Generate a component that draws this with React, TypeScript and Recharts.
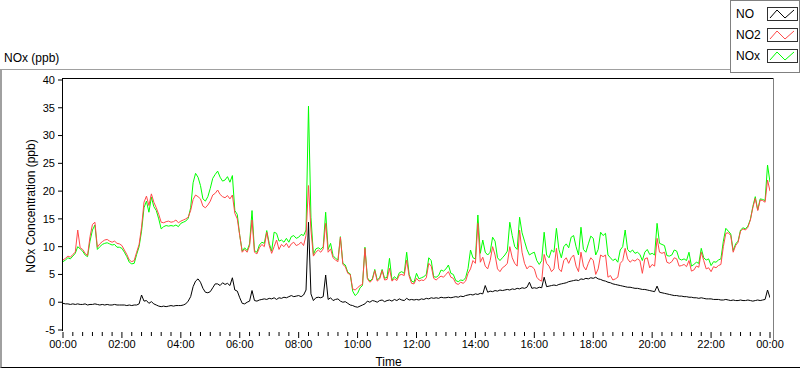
import { Line, LineChart, XAxis, YAxis } from "recharts";

// one reading every 5 minutes, 00:00 .. 24:00
const STEP_MIN = 5;

const no = [
  -0.2, -0.3, -0.3, -0.4, -0.3, -0.4, -0.3, -0.4, -0.4, -0.3, -0.5, -0.4,
  -0.4, -0.3, -0.4, -0.5, -0.4, -0.5, -0.4, -0.5, -0.5, -0.4, -0.5, -0.5,
  -0.5, -0.5, -0.6, -0.5, -0.6, -0.5, -0.5, -0.3, 1.3, 0.2, 0.3, -0.2,
  0.1, -0.3, -0.5, -0.7, -0.8, -0.7, -0.8, -0.7, -0.6, -0.7, -0.6, -0.6,
  -0.6, -0.5, -0.3, 0.2, 1.0, 2.8, 3.8, 4.2, 3.6, 2.5, 1.8, 1.7,
  1.9, 2.6, 3.3, 3.3, 3.0, 3.5, 3.2, 3.4, 3.0, 4.4, 2.2, 2.0,
  0.8, -0.2, -0.3, 0.0, 0.2, 2.1, 0.3, 0.2, 0.4, 0.5, 0.6, 0.5,
  0.7, 0.6, 0.8, 0.5, 0.8, 0.7, 0.9, 0.8, 1.0, 1.2, 1.0, 1.1,
  1.2, 1.0, 1.3, 2.2, 14.4, 1.5, 0.3, 0.8, 0.9, 0.8, 1.0, 4.9,
  0.5, 0.8, 0.3, 0.5, 0.6, 0.2, 0.0, 0.1, -0.2, -0.5, -0.6, -0.8,
  -0.9, -0.7, -0.5, -0.3, 0.2, 0.0, 0.3, 0.2, 0.0, 0.3, 0.4, 0.1,
  0.3, 0.4, 0.2, 0.5, 0.3, 0.6, 0.4, 0.3, 0.7, 0.4, 0.5, 0.4,
  0.5, 0.4, 0.6, 0.5, 0.7, 0.6, 0.8, 0.7, 0.8, 0.7, 0.9, 0.8,
  0.8, 0.9, 0.8, 0.9, 1.0, 0.9, 1.1, 1.0, 1.2, 1.3, 1.4, 1.3,
  1.5, 1.4, 1.6, 1.5, 3.0, 1.8, 2.0, 1.9, 2.1, 2.0, 2.2, 2.1,
  2.2, 2.3, 2.2, 2.4, 2.3, 2.5, 2.4, 2.6, 2.5, 2.7, 3.6, 2.5,
  2.6, 2.5, 2.7, 2.6, 4.5, 2.8, 2.9, 3.0, 3.1, 3.0, 3.2, 3.3,
  3.4, 3.5, 3.7, 3.8, 3.9, 4.0, 3.9, 4.2, 4.1, 4.3, 4.2, 4.4,
  4.3, 4.5, 4.2, 4.1, 3.9, 3.8, 3.6, 3.5, 3.3, 3.2, 3.1, 3.0,
  2.9, 2.8, 2.7, 2.7, 2.6, 2.5, 2.5, 2.4, 2.3, 2.3, 2.2, 2.1,
  2.0, 1.9, 2.9, 1.8, 1.7, 1.6, 1.5, 1.4, 1.3, 1.2, 1.2, 1.1,
  1.1, 1.0, 1.0, 0.9, 0.9, 0.8, 0.8, 0.7, 0.8, 0.7, 0.6, 0.6,
  0.6, 0.5, 0.5, 0.5, 0.4, 0.4, 0.5, 0.4, 0.3, 0.4, 0.3, 0.3,
  0.4, 0.3, 0.3, 0.4, 0.3, 0.2, 0.3, 0.4, 0.3, 0.4, 0.5, 2.2,
  0.8,
];

const no2 = [
  7.6, 7.9, 8.3, 8.1, 8.6, 9.0, 13.0, 9.8, 9.5, 8.8, 8.4, 11.8,
  14.0, 14.4, 9.9, 10.5, 10.9, 11.2, 11.3, 11.0, 10.8, 11.0, 10.6, 10.5,
  10.2, 9.4, 8.6, 7.6, 7.3, 7.5, 9.0, 10.4, 13.5, 18.0, 19.1, 17.4,
  19.5, 18.0, 17.0, 15.8, 14.4, 14.3, 14.5, 14.6, 14.4, 14.5, 14.8, 14.3,
  14.6, 14.8, 15.0, 15.3, 16.5, 18.5, 19.3, 19.0, 18.6, 17.3, 17.0, 17.5,
  18.2, 19.3, 19.6, 20.2, 19.4, 19.0, 18.8, 19.2, 18.6, 19.3, 16.0, 15.0,
  12.0, 9.0, 9.5, 9.0, 10.2, 14.8, 9.0, 8.7, 9.8, 10.4, 10.0, 12.6,
  10.2, 8.8, 10.0, 11.2, 9.5, 10.4, 10.0, 10.6, 9.8, 10.5, 10.8, 10.2,
  10.4, 10.8, 10.2, 12.0, 21.0, 13.0, 8.3, 9.0, 9.4, 9.0, 9.6, 14.2,
  9.0, 9.6, 8.0, 7.6, 7.3, 11.7, 6.8, 6.4, 5.2, 5.0, 2.4, 2.2,
  2.6, 3.0, 3.2, 9.7, 4.2, 3.6, 4.0, 5.7, 3.8, 4.2, 5.7, 4.0,
  4.1, 6.1, 3.8, 4.2, 3.9, 4.9, 5.0, 4.8, 7.6, 4.7, 3.4, 3.3,
  4.3, 3.8, 4.0, 3.9, 4.4, 7.0, 6.5, 4.3, 4.0, 4.4, 4.7, 4.5,
  5.0, 5.5, 4.5, 4.3, 3.4, 3.2, 3.6, 3.4, 3.8, 5.2, 6.0, 7.5,
  7.0, 14.2, 7.2, 8.1, 6.5, 6.0, 7.5, 10.0, 8.5, 6.0, 5.5, 6.2,
  6.5, 7.0, 10.0, 8.0, 7.0, 6.5, 13.0, 9.0, 7.0, 6.0, 6.5, 6.4,
  6.0, 4.5, 4.0, 3.8, 8.6, 7.0, 6.5, 5.5, 6.0, 9.7, 6.0, 5.5,
  7.5, 8.0, 7.0, 8.0, 8.5, 6.5, 5.5, 9.0, 6.5, 5.8, 7.0, 8.0,
  7.5, 5.0, 6.0, 8.5, 8.2, 8.5, 4.5, 4.8, 4.0, 4.2, 4.5, 7.0,
  7.5, 9.7, 7.8, 7.2, 7.6, 7.4, 7.8, 7.5, 5.2, 7.8, 8.0, 6.2,
  6.8, 6.5, 11.5, 9.0, 8.8, 9.0, 7.2, 7.0, 7.3, 8.0, 7.8, 6.5,
  6.6, 6.8, 6.4, 7.5, 5.6, 5.8, 6.5, 6.3, 9.0, 7.5, 6.0, 6.2,
  5.5, 6.4, 6.2, 6.6, 6.8, 10.0, 12.4, 12.5, 12.0, 9.0, 10.2, 10.8,
  12.8, 13.2, 13.0, 13.5, 14.8, 17.0, 18.7, 16.5, 18.4, 18.3, 18.0, 22.0,
  20.0,
];

const nox = [
  7.3, 7.6, 8.0, 7.8, 8.3, 8.8, 10.0, 9.6, 9.2, 8.5, 8.2, 11.0,
  13.0, 13.9, 9.5, 10.0, 10.4, 10.6, 10.7, 10.5, 10.3, 10.4, 9.9, 9.9,
  9.7, 9.0, 8.2, 7.2, 6.9, 7.0, 8.6, 10.0, 12.8, 17.0, 18.2, 16.2,
  18.9, 17.2, 16.5, 15.0, 13.2, 13.6, 13.8, 13.7, 13.8, 13.7, 13.9, 13.6,
  14.2, 14.4, 14.6, 15.1, 17.0, 21.5, 23.2, 22.5, 21.0, 18.6, 18.2, 19.0,
  20.5, 22.3, 23.0, 23.6, 22.5, 21.8, 22.0, 22.6, 21.6, 22.8, 16.5, 15.8,
  12.0, 9.2, 9.8, 9.3, 10.5, 16.5, 9.3, 9.0, 10.3, 10.8, 10.6, 12.9,
  10.6, 9.2, 12.6, 12.4, 11.0, 11.2, 10.8, 11.5, 10.8, 11.8, 12.0, 11.5,
  11.7, 12.2, 12.0, 13.0, 35.3, 15.3, 8.6, 9.6, 9.8, 9.5, 10.0, 16.2,
  9.5, 10.6, 8.4, 7.9, 7.6, 11.8, 7.0, 6.7, 5.4, 5.1, 2.0, 1.2,
  1.6, 2.6, 3.0, 9.9, 4.4, 3.8, 4.2, 5.9, 4.0, 4.4, 5.9, 4.3,
  4.5, 7.9, 4.0, 4.6, 4.2, 5.3, 5.5, 5.2, 9.0, 5.0, 3.8, 3.6,
  5.2, 4.2, 4.4, 4.6, 5.0, 8.0, 7.5, 4.6, 4.5, 4.8, 5.8, 5.6,
  6.0, 6.7, 5.2, 5.0, 3.9, 3.7, 4.0, 3.9, 4.4, 6.1, 9.4, 8.0,
  7.8, 15.7, 8.8, 11.2, 9.0, 8.5, 9.0, 11.7, 11.0, 8.0, 7.5, 8.0,
  8.5, 9.2, 14.4, 12.0, 10.0, 9.5, 15.3, 12.5, 11.0, 9.5, 8.5, 8.8,
  9.0, 7.5, 6.8, 7.5, 12.6, 8.5, 8.0, 9.4, 9.0, 13.3, 9.5, 8.0,
  10.0, 10.5, 9.8, 11.7, 12.0, 10.0, 8.5, 13.5, 9.5, 9.0, 10.5, 11.9,
  11.5, 8.5, 9.5, 12.6, 12.0, 12.4, 8.5, 8.0, 7.5, 7.8, 7.2, 9.4,
  10.0, 13.0, 9.5, 9.0, 9.4, 8.8, 9.0, 8.6, 7.5, 9.0, 9.5, 8.6,
  8.8, 8.5, 14.2, 10.6, 10.4, 10.2, 8.4, 8.3, 8.5, 9.4, 9.2, 7.8,
  7.6, 7.8, 7.5, 9.0, 6.5, 6.8, 7.2, 7.0, 9.7, 8.0, 7.6, 7.8,
  6.6, 7.3, 7.2, 7.6, 7.8, 11.0, 13.3, 12.8, 12.3, 9.3, 10.5, 11.0,
  13.0, 13.4, 13.2, 13.7, 14.9, 17.2, 19.0, 16.6, 18.6, 18.5, 18.3, 24.7,
  21.6,
];

const yTicks = [-5, 0, 5, 10, 15, 20, 25, 30, 35, 40];
// minor tick every 20 min, labelled every 2 h
const xTicks = Array.from({ length: 73 }, (_, i) => i * 20);

const series = [
  { key: "no", name: "NO", color: "#000000" },
  { key: "no2", name: "NO2", color: "#ff4848" },
  { key: "nox", name: "NOx", color: "#00ff00" },
];

const data = no.map((v, i) => ({ t: i * STEP_MIN, no: v, no2: no2[i], nox: nox[i] }));

const fmtTime = (m: number) => `${String(Math.floor(m / 60) % 24).padStart(2, "0")}:00`;

function TimeTick(props: any) {
  const { x, y, payload } = props;
  const major = payload.value % 120 === 0;
  return (
    <g>
      <line x1={x} x2={x} y1={y + 2} y2={y + (major ? 8 : 6)} stroke="#000" />
      {major && (
        <text x={x} y={y + 18} textAnchor="middle" fontSize={11} fill="#000">
          {fmtTime(payload.value)}
        </text>
      )}
    </g>
  );
}

function Swatch({ color }: { color: string }) {
  return (
    <svg width={31} height={14} style={{ display: "block" }}>
      <rect x={0.5} y={0.5} width={30} height={13} fill="#fff" stroke="#303030" />
      <polyline points="3,11 10,3 18,11 27,3" fill="none" stroke={color} />
    </svg>
  );
}

export default function App() {
  const order = ["nox", "no2", "no"];
  return (
    <div
      style={{
        position: "absolute",
        left: 0,
        top: 0,
        width: 800,
        height: 369,
        background: "#fff",
        fontFamily: "'Liberation Sans', Arial, sans-serif",
        color: "#000",
      }}
    >
      {/* outer panel frame */}
      <div
        style={{
          position: "absolute",
          left: 0,
          top: 69,
          width: 800,
          height: 299,
          boxSizing: "border-box",
          borderTop: "1px solid #a0a0a0",
          borderLeft: "2px solid #a0a0a0",
          borderBottom: "1px solid #000",
        }}
      />
      <div style={{ position: "absolute", left: 4, top: 51, fontSize: 12, lineHeight: "14px" }}>NOx (ppb)</div>

      <div style={{ position: "absolute", left: 0, top: 0 }}>
        <LineChart width={800} height={369} data={data} margin={{ top: 80, right: 30, bottom: 0, left: 0 }}>
          <XAxis
            dataKey="t"
            type="number"
            domain={[0, 1440]}
            ticks={xTicks}
            interval={0}
            height={39}
            tickSize={0}
            tickMargin={0}
            tickLine={false}
            axisLine={false}
            tick={(p: any) => <TimeTick {...p} />}
            allowDataOverflow
            label={{ value: "Time", position: "insideBottom", offset: 3, dx: -28, fontSize: 12, fill: "#000" }}
          />
          <YAxis
            type="number"
            domain={[-5, 40]}
            ticks={yTicks}
            interval={0}
            width={63}
            tickSize={5}
            tickMargin={3}
            axisLine={false}
            tickLine={{ stroke: "#000" }}
            tick={{ fill: "#000", fontSize: 11 }}
            allowDataOverflow
            label={() => (
              <text
                x={31}
                y={206}
                transform="rotate(-90 31 206)"
                textAnchor="middle"
                dominantBaseline="central"
                fontSize={12}
                fill="#000"
              >
                NOx Concentration (ppb)
              </text>
            )}
          />
          {order.map((k) => {
            const s = series.find((d) => d.key === k)!;
            return (
              <Line
                key={s.key}
                dataKey={s.key}
                name={s.name}
                type="linear"
                stroke={s.color}
                strokeWidth={1}
                dot={false}
                activeDot={false}
                isAnimationActive={false}
              />
            );
          })}
        </LineChart>
      </div>

      {/* plot box edges */}
      <div style={{ position: "absolute", left: 62, top: 78, width: 712, height: 1, background: "#000" }} />
      <div style={{ position: "absolute", left: 62, top: 78, width: 1, height: 253, background: "#000" }} />
      <div style={{ position: "absolute", left: 773, top: 78, width: 1, height: 262, background: "#808080" }} />

      {/* legend */}
      <div
        style={{
          position: "absolute",
          left: 730,
          top: 0,
          width: 70,
          height: 73,
          boxSizing: "border-box",
          border: "1px solid #808080",
          background: "#fff",
        }}
      >
        {series.map((s, i) => (
          <div key={s.key} style={{ position: "absolute", left: 0, top: 6 + i * 21, height: 14, width: 68 }}>
            <span style={{ position: "absolute", left: 5, top: 0, fontSize: 12, lineHeight: "14px" }}>{s.name}</span>
            <div style={{ position: "absolute", left: 36, top: 0 }}>
              <Swatch color={s.color} />
            </div>
          </div>
        ))}
      </div>
    </div>
  );
}
